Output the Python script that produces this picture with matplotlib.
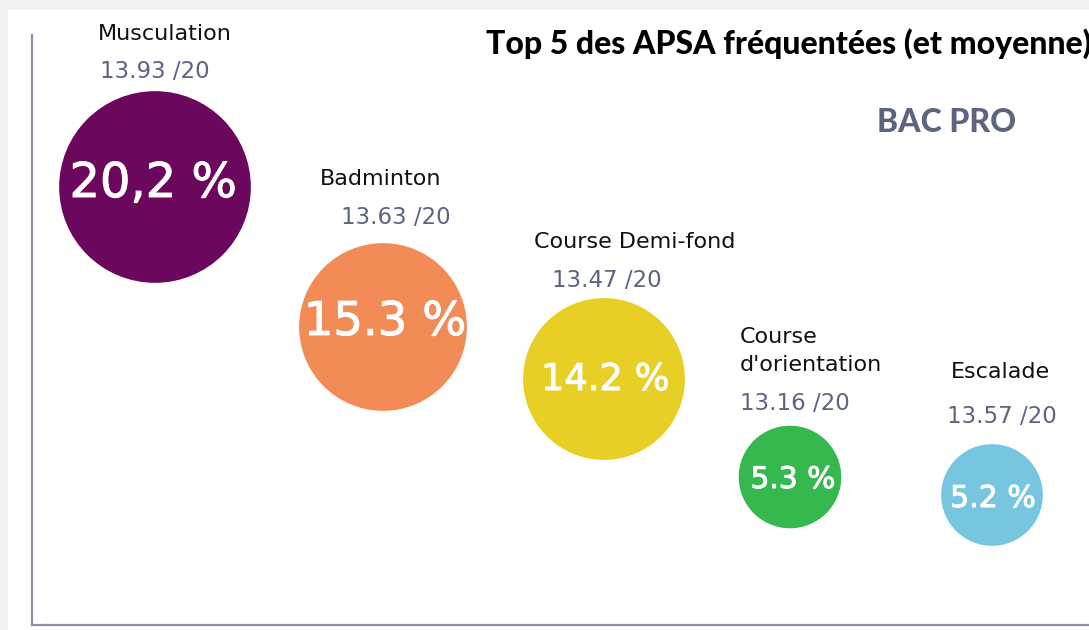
import matplotlib.pyplot as plt
import matplotlib.patheffects as pe
from matplotlib.patches import Rectangle

# === DATA ===
activities = ["Musculation", "Badminton", "Course Demi-fond", "Course\nd'orientation", "Escalade"]
shares = [20.2, 15.3, 14.2, 5.3, 5.2]
share_labels = ["20,2 %", "15.3 %", "14.2 %", "5.3 %", "5.2 %"]
averages = [13.93, 13.63, 13.47, 13.16, 13.57]

# === LAYOUT (pixel coords, origin top-left) ===
bubble_x = [155, 383, 604, 790, 992]
bubble_y = [187, 327, 379, 477, 495]
pct_xy = [(153, 197), (385, 335), (605, 390), (793, 488), (993, 507)]
pct_size = [34.5, 33.5, 26.5, 21.4, 21.6]
name_xy = [(165, 40), (381, 185), (635, 248), (740, 371), (1000, 378)]
name_ha = ["center", "center", "center", "left", "center"]
score_xy = [(155, 78), (396, 224), (607, 287), (740, 410), (1002, 423)]
score_ha = ["center", "center", "center", "left", "center"]
colors = ["#6b075d", "#f28b55", "#e8cf25", "#35b94f", "#77c6df"]

W, H, DPI = 1089, 630, 100
fig = plt.figure(figsize=(W / DPI, H / DPI), dpi=DPI, facecolor="#f1f1f1")
fig.patches.append(Rectangle((8 / W, 0), 1, 1 - 10 / H, transform=fig.transFigure,
                             facecolor="white", edgecolor="none", zorder=-5))

ax = fig.add_axes([32 / W, 1 - 625 / H, (W - 32) / W, (625 - 35) / H])
ax.set_facecolor("none")
ax.set_xlim(32, W)
ax.set_ylim(625, 35)
ax.set_xticks([])
ax.set_yticks([])
for s in ["top", "right"]:
    ax.spines[s].set_visible(False)
for s in ["left", "bottom"]:
    ax.spines[s].set_color("#8a90a8")
    ax.spines[s].set_linewidth(1.6)

# bubble area grows with share (px^2 -> pt^2)
px2pt = 72 / DPI
sizes = [(2 * (440 * v + 300) ** 0.5 * px2pt) ** 2 for v in shares]
ax.scatter(bubble_x, bubble_y, s=sizes, c=colors, edgecolors="none", clip_on=False, zorder=2)

for i in range(len(activities)):
    ax.text(*pct_xy[i], share_labels[i], color="white", fontsize=pct_size[i],
            family="DejaVu Sans", ha="center", va="baseline", zorder=3,
            path_effects=[pe.withStroke(linewidth=0.7, foreground="white")])
    ax.text(*name_xy[i], activities[i], color="#111111", fontsize=16, family="DejaVu Sans",
            ha=name_ha[i], va="baseline", linespacing=1.5, clip_on=False)
    ax.text(*score_xy[i], f"{averages[i]:.2f} /20", color="#5d6480", fontsize=16.5,
            family="DejaVu Sans", ha=score_ha[i], va="baseline", clip_on=False)

fig.text(1091 / W, 1 - 44 / H, "Top 5 des APSA fréquentées (et moyenne)", ha="right", va="center",
         fontsize=23, fontweight="black", family="Lato", color="black")
fig.text(947 / W, 1 - 122 / H, "BAC PRO", ha="center", va="center",
         fontsize=23, fontweight="black", family="Lato", color="#5d6480")

fig.savefig("out.png", dpi=DPI, facecolor=fig.get_facecolor())
